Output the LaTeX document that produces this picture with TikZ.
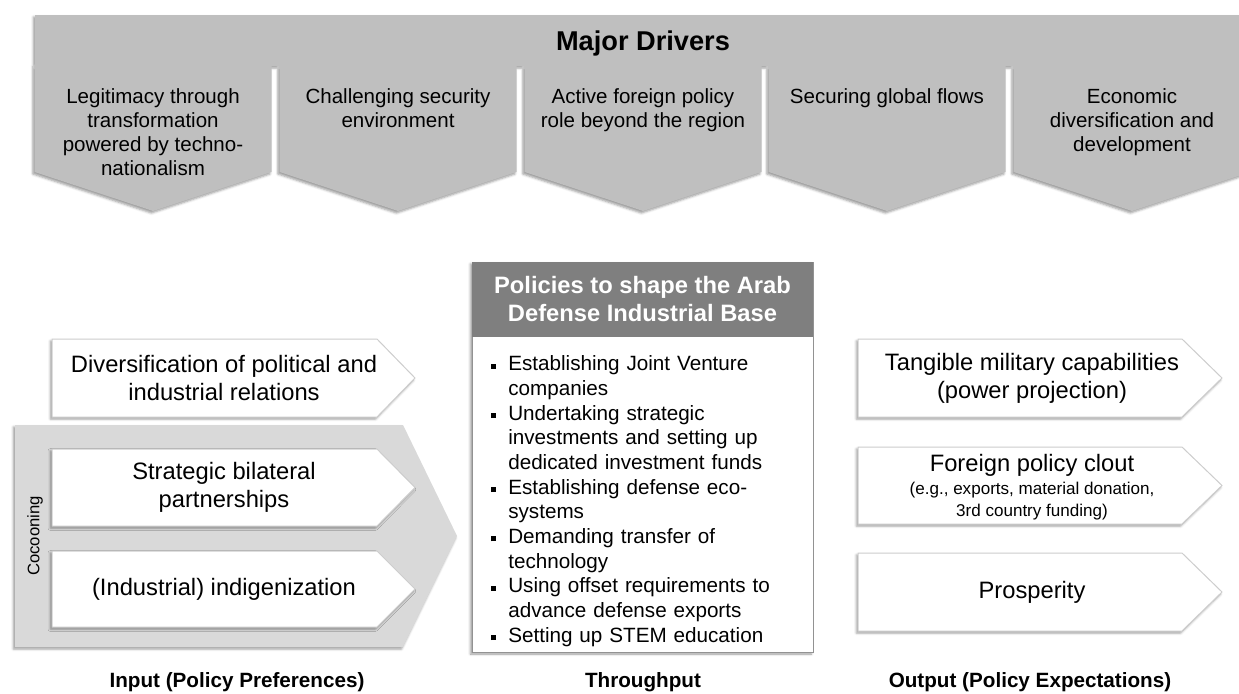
\documentclass[tikz,border=0pt]{standalone}
\usepackage{fontspec}
\setmainfont{Liberation Sans}
\usepackage{enumitem}
\usetikzlibrary{shadows.blur}

\definecolor{driverGray}{RGB}{191,191,191}
\definecolor{cocoonGray}{RGB}{217,217,217}
\definecolor{headGray}{RGB}{127,127,127}
\definecolor{edgeGray}{RGB}{205,205,205}

\tikzset{
  softshadow/.style={blur shadow={shadow xshift=-1.2pt, shadow yshift=-1.5pt, shadow blur radius=1.8pt, shadow opacity=40}},
  whitearrow/.style={draw=edgeGray, fill=white, line width=0.75, softshadow},
  drivertext/.style={anchor=north, inner sep=0.75pt, align=center, font=\fontsize{15.4}{18}\selectfont},
  boxtext/.style={inner sep=0.75pt, align=center, font=\fontsize{17.8}{21}\selectfont},
  steplabel/.style={inner sep=0.75pt, font=\bfseries\fontsize{15.5}{18}\selectfont},
}

\begin{document}
\begin{tikzpicture}[x=0.75pt,y=0.75pt,yscale=-1,xscale=1]
\useasboundingbox (0,0) rectangle (1239,693);
\clip (0,0) rectangle (1239,693);

%Shape: Major Drivers banner with five chevrons
\fill [driverGray, softshadow] (35,15) -- (1251,15) -- (1251,66) -- (35,66) -- cycle
  \foreach \cx in {153,398,643,887,1132} { (\cx-118.5,64) -- (\cx+118.5,64) -- (\cx+118.5,172) -- (\cx,211) -- (\cx-118.5,172) -- cycle };

% Text Node
\node [inner sep=0.75pt, font=\bfseries\fontsize{20.4}{24}\selectfont] (drvTitle) at (643,43) {Major Drivers};
% Text Node
\node [drivertext] (drvLegit) at (153,87) {Legitimacy through\\transformation\\powered by techno-\\nationalism};
% Text Node
\node [drivertext] (drvSecur) at (398,87) {Challenging security\\environment};
% Text Node
\node [drivertext] (drvForeign) at (643,87) {Active foreign policy\\role beyond the region};
% Text Node
\node [drivertext] (drvFlows) at (887,87) {Securing global flows};
% Text Node
\node [drivertext] (drvEcon) at (1132,87) {Economic\\diversification and\\development};

%Shape: Cocooning pentagon
\fill [cocoonGray, softshadow] (15,425) -- (403,425) -- (457,536) -- (403,647) -- (15,647) -- cycle;
% Text Node
\node [rotate=90, inner sep=0.75pt, font=\fontsize{12.5}{15}\selectfont] (cocoonLbl) at (35,536) {Cocooning};

%Shape: Input arrows
\draw [whitearrow] (52,339) -- (377,339) -- (415,378) -- (377,417) -- (52,417) -- cycle;
\draw [whitearrow] (52,449) -- (377,449) -- (415,487.5) -- (377,526) -- (52,526) -- cycle;
\draw [whitearrow] (52,551) -- (377,551) -- (415,589) -- (377,627) -- (52,627) -- cycle;
% Text Node
\node [boxtext] (inDivers) at (224,378) {Diversification of political and\\industrial relations};
% Text Node
\node [boxtext] (inBilat) at (224,487.5) {Strategic bilateral\\partnerships};
% Text Node
\node [boxtext] (inIndig) at (224,589) {(Industrial) indigenization};

%Shape: Throughput box
\draw [draw=headGray!85, fill=white, line width=0.75, softshadow] (472,262) rectangle (813,652);
\fill [headGray] (472,262) rectangle (813,337);
% Text Node
\node [inner sep=0.75pt, align=center, text=white, font=\bfseries\fontsize{17.8}{21}\selectfont] (polHead) at (642.5,299) {Policies to shape the Arab\\Defense Industrial Base};
% Text Node
\node [anchor=north west, inner sep=0pt, text width=250pt, font=\fontsize{15.5}{18.5}\selectfont] (polList) at (478,346) {%
  \raggedright
  \begin{itemize}[label={\rule[0.2ex]{3.8pt}{3.8pt}}, leftmargin=22.5pt, labelsep=9pt, itemsep=0pt, topsep=0pt, parsep=0pt, partopsep=0pt]
    \item Establishing Joint Venture\newline companies
    \item Undertaking strategic\newline investments and setting up\newline dedicated investment funds
    \item Establishing defense eco-\newline systems
    \item Demanding transfer of\newline technology
    \item Using offset requirements to\newline advance defense exports
    \item Setting up STEM education
  \end{itemize}};

%Shape: Output arrows
\draw [whitearrow] (858,339) -- (1182,339) -- (1222,378) -- (1182,417) -- (858,417) -- cycle;
\draw [whitearrow] (858,447) -- (1182,447) -- (1222,485.5) -- (1182,524) -- (858,524) -- cycle;
\draw [whitearrow] (858,553) -- (1182,553) -- (1222,592) -- (1182,631) -- (858,631) -- cycle;
% Text Node
\node [boxtext] (outMil) at (1032,378) {Tangible military capabilities\\(power projection)};
% Text Node
\node [boxtext] (outClout) at (1032,465) {Foreign policy clout};
% Text Node
\node [inner sep=0.75pt, align=center, font=\fontsize{12.8}{16.5}\selectfont] (outCloutEx) at (1032,501) {(e.g., exports, material donation,\\3rd country funding)};
% Text Node
\node [boxtext] (outProsp) at (1032,592) {Prosperity};

% Text Node
\node [steplabel] (lblInput) at (237,682) {Input (Policy Preferences)};
% Text Node
\node [steplabel] (lblThrough) at (643,682) {Throughput};
% Text Node
\node [steplabel] (lblOutput) at (1030,682) {Output (Policy Expectations)};
\end{tikzpicture}
\end{document}
